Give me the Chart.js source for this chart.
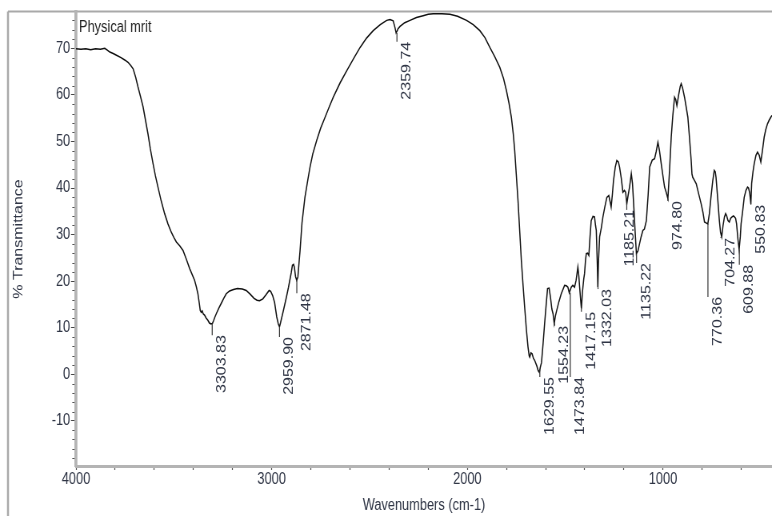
<!DOCTYPE html>
<html><head><meta charset="utf-8">
<script src="https://cdn.jsdelivr.net/npm/chart.js@4"></script>
<style>html,body{margin:0;padding:0;background:#fff;overflow:hidden}canvas{display:block}</style>
</head><body>
<canvas id="c" width="965" height="516" style="width:772px;height:516px"></canvas>
<script>
const wavenumbers = [4000,3975,3950,3925,3900,3875,3853,3840,3827,3810,3793,3770,3751,3734,3720,3708,3695,3683,3670,3657,3645,3632,3620,3606,3594,3581,3565,3547,3530,3513,3500,3487,3470,3453,3436,3419,3405,3394,3385,3377,3370,3365,3360,3355,3350,3343,3335,3326,3318,3310,3303,3296,3290,3283,3270,3258,3245,3232,3215,3195,3175,3150,3130,3110,3090,3075,3062,3045,3030,3013,3005,2995,2985,2974,2966,2960,2955,2940,2925,2914,2900,2894,2888,2884,2878,2872,2866,2860,2855,2845,2830,2815,2804,2790,2770,2750,2727,2705,2685,2650,2616,2580,2548,2515,2481,2445,2412,2395,2379,2370,2364,2358,2354,2344,2320,2293,2260,2226,2200,2174,2130,2089,2050,2004,1970,1936,1910,1885,1860,1834,1815,1800,1787,1775,1765,1758,1750,1741,1732,1724,1715,1707,1698,1690,1684,1681,1675,1669,1662,1656,1645,1638,1632,1627,1621,1613,1605,1597,1590,1582,1575,1568,1562,1556,1550,1545,1532,1520,1503,1494,1486,1479,1469,1461,1452,1444,1435,1430,1426,1420,1417,1412,1405,1401,1396,1392,1385,1379,1373,1367,1358,1350,1345,1341,1336,1333,1330,1324,1315,1307,1297,1287,1277,1270,1265,1259,1253,1244,1236,1228,1222,1213,1205,1197,1191,1185,1178,1171,1162,1156,1150,1143,1136,1128,1120,1112,1103,1095,1085,1076,1068,1055,1043,1035,1026,1018,1009,1000,992,983,975,967,958,950,941,935,929,920,912,907,900,890,882,873,865,856,852,848,840,830,818,805,796,788,780,771,763,755,746,738,733,729,720,712,706,700,693,686,680,675,668,661,654,647,640,635,629,624,617,611,605,601,593,585,576,568,563,557,551,547,540,534,525,517,508,500,492,483,475,466,457,449,443];
const transmittance = [69.9,69.8,69.9,69.7,69.9,69.8,70.0,69.6,69.2,68.9,68.5,68.0,67.5,67.0,66.3,65.6,63.8,61.7,59.6,57.4,54.6,51.6,48.4,45.2,42.6,40.2,37.3,34.5,32.3,30.5,29.4,28.4,27.6,26.6,24.7,22.7,21.3,20.2,18.8,17.3,15.3,13.7,13.3,13.6,13.0,12.7,12.1,11.6,11.0,10.8,10.9,11.6,12.3,13.0,14.2,15.2,16.3,17.3,17.9,18.2,18.4,18.3,18.0,17.2,16.3,15.9,15.8,16.2,17.0,18.0,17.8,16.9,15.4,12.3,10.8,10.2,11.0,13.7,16.5,18.7,21.8,23.4,23.6,23.0,21.0,20.2,20.9,24.0,26.5,32.5,38.0,41.8,44.5,47.3,50.2,52.8,55.2,57.5,59.5,62.6,65.2,67.9,70.2,72.2,73.8,75.1,76.0,76.2,75.9,74.5,73.3,73.8,74.2,74.7,75.5,76.0,76.6,77.0,77.3,77.4,77.4,77.3,76.9,76.0,75.1,73.8,72.3,70.2,68.2,65.9,63.5,60.9,58.2,55.2,51.5,48.1,43.0,37.3,30.5,24.5,19.0,14.4,9.5,5.9,4.0,3.7,4.6,4.4,3.4,3.0,1.8,0.8,0.4,1.5,2.5,6.5,10.9,15.0,18.4,18.5,16.5,14.0,13.0,10.9,12.5,13.4,15.6,17.3,19.1,19.0,18.7,17.5,18.7,19.1,18.7,20.2,23.0,21.0,18.7,15.5,14.1,17.5,20.5,21.6,24.5,25.9,26.0,25.5,29.5,33.0,33.9,33.8,32.0,30.9,24.0,18.7,24.0,29.5,31.5,33.8,36.0,38.0,38.4,37.0,35.9,38.5,41.6,44.5,45.9,45.6,44.5,42.0,39.1,39.5,39.1,36.6,38.5,40.2,43.1,41.0,36.6,31.0,25.9,26.5,28.0,29.5,30.9,31.2,33.0,38.5,44.5,46.0,46.3,47.8,49.8,48.0,45.2,42.5,40.2,39.0,37.7,43.5,50.9,55.5,59.5,59.0,57.7,60.0,61.8,62.4,61.5,59.5,57.5,55.2,51.0,45.9,43.0,42.3,41.7,40.9,38.8,36.6,34.8,32.7,32.5,32.3,34.5,38.0,41.5,43.8,43.5,42.3,37.5,33.0,30.5,29.5,32.0,33.8,34.5,34.1,33.0,32.7,33.5,33.8,34.0,33.8,33.5,32.3,29.0,26.8,29.5,32.3,35.0,38.0,39.5,40.2,40.0,39.0,36.6,41.0,43.5,45.2,47.0,47.7,47.0,45.6,48.0,50.9,52.5,53.8,54.6,55.2,55.6];

const xMajorTicks = [4000,3000,2000,1000];
const xMinorTicks = [3800,3600,3400,3200,2800,2600,2400,2200,1800,1600,1400,1200,800,600];
const yMajorTicks = [-10,0,10,20,30,40,50,60,70];

const peakLabels = ['3303.83','2959.90','2871.48','2359.74','1629.55','1554.23','1473.84','1417.15','1332.03','1185.21','1135.22','974.80','770.36','704.27','609.88','550.83'];
const peakDepth  = [10.9,10.2,20.2,73.3,1.0,10.9,17.5,14.1,18.7,36.6,25.9,37.7,32.3,29.5,26.8,36.6];
const labelLevel = [8.4,8.0,17.4,71.4,-0.6,10.4,-0.6,13.4,18.3,35.3,23.9,37.2,16.6,29.3,23.5,36.4];

const sampleName = 'Physical mrit';
const xTitle = 'Wavenumbers (cm-1)';
const yTitle = '% Transmittance';

// the reference picture is squeezed horizontally: draw on a wider canvas shown at 772 css px
const SX = 965/772;
const REG = "'Liberation Sans',Arial,sans-serif";
const TXT = '#2f3545';

const points = wavenumbers.map((w,i)=>({x:w,y:transmittance[i]}));

const decor = {
  id:'decor',
  beforeDraw(chart){
    const c = chart.ctx, W = chart.width, H = chart.height;
    c.save();
    c.fillStyle='#fff'; c.fillRect(0,0,W,H);
    c.strokeStyle='#a9a9a9';
    c.lineWidth=2;
    c.beginPath(); c.moveTo(8*SX,11.5); c.lineTo(W,11.5); c.stroke();
    c.lineWidth=2*SX;
    c.beginPath(); c.moveTo(8*SX,11.5); c.lineTo(8*SX,H); c.stroke();
    c.restore();
  },
  afterDatasetsDraw(chart){
    const c = chart.ctx, xs = chart.scales.x, ys = chart.scales.y;
    c.save();
    // minor y ticks
    c.strokeStyle='#555'; c.lineWidth=1;
    for(let v=-18; v<=76; v+=2){
      if(v%10===0) continue;
      const py = Math.round(ys.getPixelForValue(v))+0.5;
      c.beginPath(); c.moveTo(72.3*SX,py); c.lineTo(74.5*SX,py); c.stroke();
    }
    // leaders and peak labels
    c.font = '16px '+REG;
    c.fillStyle = TXT;
    c.textAlign='right'; c.textBaseline='middle';
    peakLabels.forEach((lab,i)=>{
      const wn = parseFloat(lab);
      const px = xs.getPixelForValue(wn);
      const y1 = ys.getPixelForValue(peakDepth[i]);
      const y2 = ys.getPixelForValue(labelLevel[i]);
      c.strokeStyle='#333'; c.lineWidth=1.2;
      c.beginPath(); c.moveTo(px,y1); c.lineTo(px,y2); c.stroke();
      const nudge = (lab==='1185.21' ? 3 : 10)*SX;
      c.save();
      c.translate(px+nudge, y2);
      c.rotate(-Math.PI/2);
      c.fillText(lab,0,0);
      c.restore();
    });
    // sample name
    c.textAlign='left'; c.textBaseline='alphabetic';
    c.font='16px '+REG; c.fillStyle='#222';
    c.fillText(sampleName, 79*SX, 32);
    c.restore();
  }
};

new Chart(document.getElementById('c'), {
  type:'line',
  data:{datasets:[{data:points, borderColor:'#111', borderWidth:1.5, pointRadius:0, tension:0, fill:false}]},
  options:{
    responsive:false, animation:false, devicePixelRatio:1,
    layout:{padding:{top:12,left:0,right:0,bottom:0}},
    plugins:{legend:{display:false}, tooltip:{enabled:false}},
    scales:{
      x:{type:'linear', reverse:true, min:443, max:4000,
        afterBuildTicks(s){ s.ticks = xMajorTicks.concat(xMinorTicks).sort((a,b)=>b-a).map(v=>({value:v})); },
        afterFit(s){ s.height = 50; },
        ticks:{autoSkip:false, maxRotation:0, padding:0, color:TXT, font:{family:REG,size:16},
          callback:(v)=> xMajorTicks.includes(v) ? String(v) : ''},
        grid:{drawOnChartArea:false, drawTicks:true, tickLength:4, tickColor:'#555', tickWidth:1.2},
        border:{display:true, color:'#b4b4b4', width:3},
        title:{display:true, text:xTitle, color:TXT, font:{family:REG,size:16}, padding:{top:0,bottom:1}}
      },
      y:{type:'linear', min:-19.7, max:77.8,
        afterBuildTicks(s){ s.ticks = yMajorTicks.map(v=>({value:v})); },
        afterFit(s){ s.width = 76*SX; },
        ticks:{autoSkip:false, padding:1, color:TXT, font:{family:REG,size:16}},
        grid:{drawOnChartArea:false, drawTicks:true, tickLength:5*SX, tickColor:'#444'},
        border:{display:true, color:'#b4b4b4', width:3*SX},
        title:{display:true, text:yTitle, color:TXT, font:{family:REG,size:16}, padding:{top:19*SX-9.6,bottom:0}}
      }
    }
  },
  plugins:[decor]
});
</script>
</body></html>
